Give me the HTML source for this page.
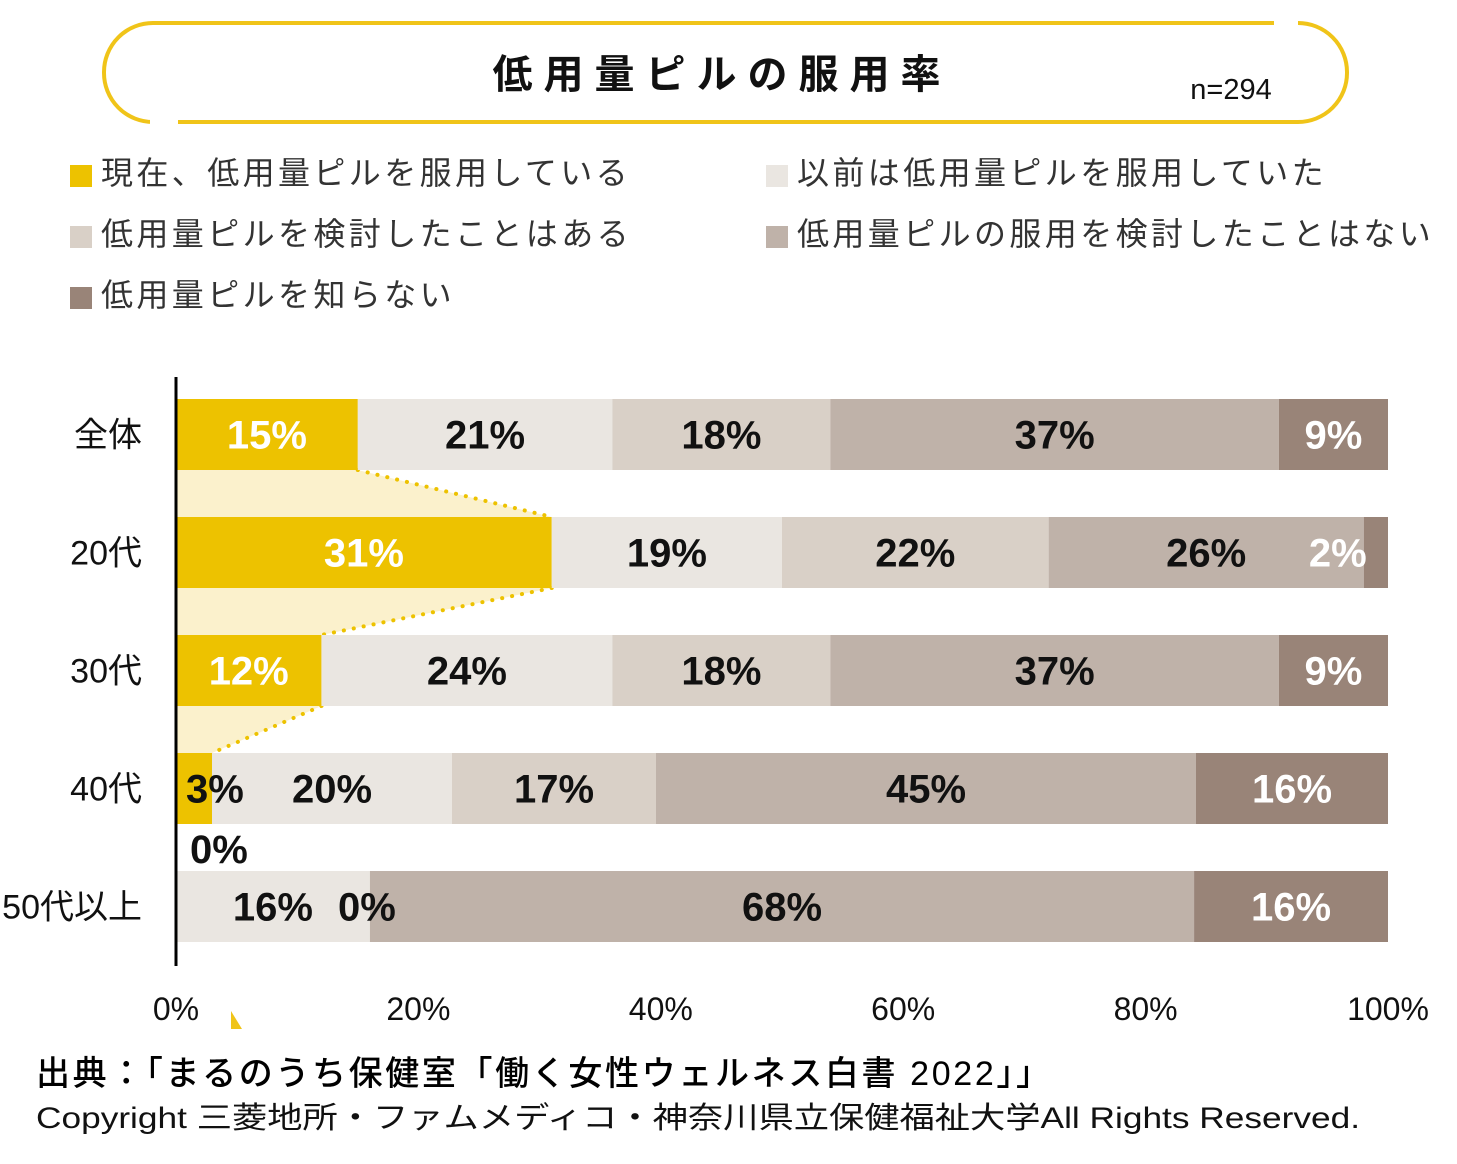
<!DOCTYPE html>
<html><head><meta charset="utf-8"><style>
html,body{margin:0;padding:0;background:#fff;}
svg{display:block;}
</style></head><body>
<svg id="chart" width="1457" height="1164" viewBox="0 0 1457 1164" xmlns="http://www.w3.org/2000/svg" font-family="'Liberation Sans','Noto Sans CJK JP',sans-serif">
  <g>
    <rect x="104" y="23" width="1243" height="99" rx="49" ry="49" fill="none" stroke="#F0C419" stroke-width="4"/>
    <rect x="150" y="117" width="28" height="10" fill="#fff"/>
    <rect x="1274" y="17" width="24" height="10" fill="#fff"/>
    <text x="722" y="88" text-anchor="middle" font-size="40" font-weight="bold" letter-spacing="11" fill="#111">低用量ピルの服用率</text>
    <text x="1231" y="99" text-anchor="middle" font-size="29" fill="#111">n=294</text>
  </g>
  <g id="legend" font-size="32" fill="#333" letter-spacing="3.4"></g>
  <g id="funnel"></g>
  <g id="bars"></g>
  <g id="labels"></g>
  <line x1="176" y1="377" x2="176" y2="966" stroke="#000" stroke-width="3"/>
  <g id="xticks" font-size="32" fill="#111"></g>
  <polygon points="231,1011 231,1029 242,1029" fill="#F0C419"/>
  <text x="36" y="1085" font-size="34" font-weight="500" fill="#000" textLength="1014" lengthAdjust="spacing">出典：「まるのうち保健室「働く女性ウェルネス白書 2022」」</text>
  <text x="36" y="1128" font-size="30" fill="#111" textLength="1324" lengthAdjust="spacingAndGlyphs">Copyright 三菱地所・ファムメディコ・神奈川県立保健福祉大学All Rights Reserved.</text>
</svg>
<script>
const categories = ['全体','20代','30代','40代','50代以上'];
const seriesNames = ['現在、低用量ピルを服用している','以前は低用量ピルを服用していた','低用量ピルを検討したことはある','低用量ピルの服用を検討したことはない','低用量ピルを知らない'];
const currentUse = [15,31,12,3,0];
const pastUse = [21,19,24,20,16];
const considered = [18,22,18,17,0];
const neverConsidered = [37,26,37,45,68];
const unaware = [9,2,9,16,16];
const tickLabels = ['0%','20%','40%','60%','80%','100%'];
const tickValues = [0,20,40,60,80,100];

const NS='http://www.w3.org/2000/svg';
const colors=['#EDC200','#EAE6E1','#D9D0C7','#BFB2A9','#998478'];
const X0=176,X1=1388,Y0=399,STEP=118,BH=71;
const xs=v=>X0+(X1-X0)*v/100;
const yRow=i=>Y0+i*STEP;
const series=[currentUse,pastUse,considered,neverConsidered,unaware];
const rowTotal=i=>series.reduce((a,s)=>a+s[i],0);
function mk(tag,attrs,parent){const e=document.createElementNS(NS,tag);for(const k in attrs)e.setAttribute(k,attrs[k]);parent.appendChild(e);return e;}

// legend
const lg=document.getElementById('legend');
const legPos=[[70,172],[766,172],[70,233],[766,233],[70,294]];
seriesNames.forEach((n,i)=>{
  const g=mk('g',{},lg);
  
  
  mk('rect',{x:legPos[i][0],y:legPos[i][1]-7,width:22,height:22,fill:colors[i]},g);
  const t=mk('text',{x:legPos[i][0]+31,y:legPos[i][1]+12},g);t.textContent=n;
});

// funnel
const fn=document.getElementById('funnel');
for(let i=0;i<3;i++){
  const top=yRow(i)+BH, bot=yRow(i+1);
  const a=xs(currentUse[i]*100/rowTotal(i)), b=xs(currentUse[i+1]*100/rowTotal(i+1));
  const p=mk('polygon',{points:`${X0},${top} ${a},${top} ${b},${bot} ${X0},${bot}`,fill:'#FBF1CC'},fn);
  
  
  const l=mk('line',{x1:a,y1:top,x2:b,y2:bot,stroke:'#EDC200','stroke-width':4,'stroke-dasharray':'0.1 10','stroke-linecap':'round'},fn);
  
  
}

// bars
const bars=document.getElementById('bars');
const labels=document.getElementById('labels');
categories.forEach((c,i)=>{
  const y=yRow(i);
  const tot=rowTotal(i);
  const lab=mk('text',{x:142,y:y+BH/2+12,'text-anchor':'end','font-size':34,fill:'#111'},bars);
  
  
  lab.textContent=c;
  let cum=0;
  series.forEach((s,j)=>{
    const v=s[i];const xa=xs(cum*100/tot),xb=xs((cum+v)*100/tot);
    if(v>0){
      const r=mk('rect',{x:xa,y:y,width:xb-xa,height:BH,fill:colors[j]},bars);
      
      
    }
    let cx=(xa+xb)/2, cy=y+BH/2+14, anchor='middle';
    let white=(j===0||j===4);
    if(v===0&&j===0){cx=X0+14;cy=y-8;anchor='start';white=false;}
    else if(v===0){cx=xa-3;white=false;}
    else if(v<5&&j===0){cx=xa+10;anchor='start';white=false;}
    else if(v<5){cx=xa-26;white=true;}
    const t=mk('text',{x:cx,y:cy,'text-anchor':anchor,'font-size':40,'font-weight':'bold',fill:white?'#fff':'#111'},labels);
    
    
    t.textContent=v+'%';
    cum+=v;
  });
});

// x ticks
const xt=document.getElementById('xticks');
tickValues.forEach((v,i)=>{
  const t=mk('text',{x:xs(v),y:1020,'text-anchor':'middle'},xt);
  
  
  t.textContent=tickLabels[i];
});
</script>
</body></html>
